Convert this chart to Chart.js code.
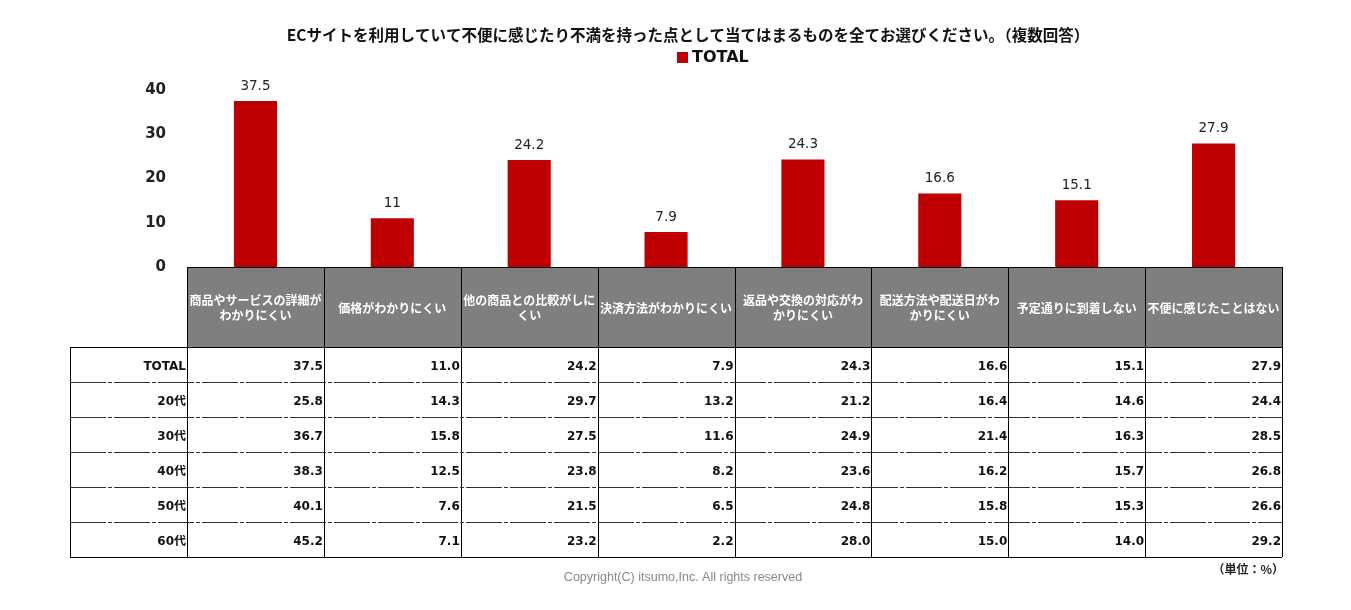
<!DOCTYPE html>
<html>
<head>
<meta charset="utf-8">
<script src="https://cdn.jsdelivr.net/npm/chart.js@4"></script>
<style>
  body { margin: 0; background: #fff; }
  canvas { display: block; }
</style>
</head>
<body>
<canvas id="chart" width="1351" height="610"></canvas>
<script>
// Categories (header cells of the table, already split into lines)
const categories = [
    ['商品やサービスの詳細が', 'わかりにくい'],
    ['価格がわかりにくい'],
    ['他の商品との比較がしに', 'くい'],
    ['決済方法がわかりにくい'],
    ['返品や交換の対応がわ', 'かりにくい'],
    ['配送方法や配送日がわ', 'かりにくい'],
    ['予定通りに到着しない'],
    ['不便に感じたことはない']
];

// Bar values (TOTAL)
const totalValues = [37.5, 11, 24.2, 7.9, 24.3, 16.6, 15.1, 27.9];

// Table rows by age group
const rowLabels = ['TOTAL', '20代', '30代', '40代', '50代', '60代'];
const age20 = [25.8, 14.3, 29.7, 13.2, 21.2, 16.4, 14.6, 24.4];
const age30 = [36.7, 15.8, 27.5, 11.6, 24.9, 21.4, 16.3, 28.5];
const age40 = [38.3, 12.5, 23.8, 8.2, 23.6, 16.2, 15.7, 26.8];
const age50 = [40.1, 7.6, 21.5, 6.5, 24.8, 15.8, 15.3, 26.6];
const age60 = [45.2, 7.1, 23.2, 2.2, 28.0, 15.0, 14.0, 29.2];

// Y axis ticks
const yTicks = [0, 10, 20, 30, 40];

const titleText = 'ECサイトを利用していて不便に感じたり不満を持った点として当てはまるものを全てお選びください。（複数回答）';
const barColor = '#C00000';
const jpFont = "'Noto Sans CJK JP', 'DejaVu Sans', sans-serif";
const numFont = "'DejaVu Sans', 'Noto Sans CJK JP', sans-serif";

const tableRows = [totalValues, age20, age30, age40, age50, age60];

// Title, legend, bar value labels
const decorPlugin = {
    id: 'decor',
    afterDatasetsDraw(chart) {
        const ctx = chart.ctx;
        ctx.save();
        ctx.fillStyle = '#111';
        ctx.font = 'bold 15.5px ' + jpFont;
        ctx.textAlign = 'center';
        ctx.textBaseline = 'middle';
        ctx.fillText(titleText, 688, 35);

        // legend
        ctx.fillStyle = barColor;
        ctx.fillRect(677, 52, 11, 11);
        ctx.fillStyle = '#111';
        ctx.font = 'bold 16px ' + numFont;
        ctx.textAlign = 'left';
        ctx.fillText(chart.data.datasets[0].label, 692, 58);

        // value labels
        const meta = chart.getDatasetMeta(0);
        ctx.font = '13.5px ' + numFont;
        ctx.fillStyle = '#222';
        ctx.textAlign = 'center';
        ctx.textBaseline = 'bottom';
        meta.data.forEach((bar, i) => {
            ctx.fillText(String(totalValues[i]), bar.x, bar.y - 8);
        });
        ctx.restore();
    }
};

// Data table below the plot, aligned to the x scale
const tablePlugin = {
    id: 'dataTable',
    afterDraw(chart) {
        const ctx = chart.ctx;
        const x = chart.scales.x;
        const area = chart.chartArea;
        const top = area.bottom;
        const headH = 80;
        const rowH = 35;
        const labelLeft = 70;
        const n = categories.length;
        const step = (area.right - area.left) / n;
        const edges = [];
        for (let i = 0; i <= n; i++) edges.push(area.left + step * i);
        const bottom = top + headH + rowH * tableRows.length;

        ctx.save();
        // header
        ctx.fillStyle = '#7f7f7f';
        ctx.fillRect(area.left, top, area.right - area.left, headH);
        ctx.fillStyle = '#fff';
        ctx.font = 'bold 12px ' + jpFont;
        ctx.textAlign = 'center';
        ctx.textBaseline = 'middle';
        categories.forEach((lines, i) => {
            const cx = x.getPixelForValue(i);
            const cy = top + headH / 2 + 1;
            const lh = 15;
            lines.forEach((line, j) => {
                ctx.fillText(line, cx, cy + (j - (lines.length - 1) / 2) * lh);
            });
        });

        // body text
        ctx.fillStyle = '#111';
        ctx.font = 'bold 12px ' + numFont;
        ctx.textAlign = 'right';
        tableRows.forEach((row, r) => {
            const cy = top + headH + rowH * r + rowH / 2 + 2;
            ctx.fillText(rowLabels[r], area.left - 1, cy);
            row.forEach((v, i) => {
                ctx.fillText(v.toFixed(1), edges[i + 1] - 1, cy);
            });
        });

        // lines
        ctx.strokeStyle = '#000';
        ctx.lineWidth = 1;
        ctx.beginPath();
        ctx.moveTo(area.left, top + 0.5);
        ctx.lineTo(area.right, top + 0.5);
        ctx.moveTo(labelLeft, top + headH + 0.5);
        ctx.lineTo(area.right, top + headH + 0.5);
        ctx.moveTo(labelLeft, bottom + 0.5);
        ctx.lineTo(area.right, bottom + 0.5);
        ctx.moveTo(labelLeft + 0.5, top + headH);
        ctx.lineTo(labelLeft + 0.5, bottom);
        edges.forEach(e => {
            ctx.moveTo(Math.round(e) + 0.5, top);
            ctx.lineTo(Math.round(e) + 0.5, bottom);
        });
        ctx.stroke();

        // row separators
        ctx.strokeStyle = '#333';
        ctx.setLineDash([36, 2, 4, 2]);
        ctx.beginPath();
        for (let r = 1; r < tableRows.length; r++) {
            const y = Math.round(top + headH + rowH * r) + 0.5;
            ctx.moveTo(labelLeft, y);
            ctx.lineTo(area.right, y);
        }
        ctx.stroke();
        ctx.setLineDash([]);

        // unit note and copyright
        ctx.fillStyle = '#222';
        ctx.font = 'bold 12px ' + jpFont;
        ctx.textAlign = 'right';
        ctx.fillText('（単位：%）', area.right + 2, bottom + 12);
        ctx.fillStyle = '#888';
        ctx.font = "12.5px 'Liberation Sans', Arial, sans-serif";
        ctx.textAlign = 'center';
        ctx.fillText('Copyright(C) itsumo,Inc. All rights reserved', 683, 578);
        ctx.restore();
    }
};

new Chart(document.getElementById('chart'), {
    type: 'bar',
    data: {
        labels: categories,
        datasets: [{
            label: 'TOTAL',
            data: totalValues,
            backgroundColor: barColor,
            borderWidth: 0,
            barPercentage: 0.315,
            categoryPercentage: 1
        }]
    },
    options: {
        responsive: false,
        animation: false,
        layout: {
            padding: { top: 90, right: 69, bottom: 343, left: 0 }
        },
        plugins: {
            legend: { display: false },
            title: { display: false },
            tooltip: { enabled: false }
        },
        scales: {
            x: {
                display: false
            },
            y: {
                min: yTicks[0],
                max: yTicks[yTicks.length - 1],
                afterFit(scale) { scale.width = 187; },
                afterBuildTicks(scale) { scale.ticks = yTicks.map(v => ({ value: v })); },
                grid: { display: false },
                border: { display: false },
                ticks: {
                    padding: 13,
                    color: '#222',
                    font: { family: numFont, size: 15, weight: 'bold' }
                }
            }
        }
    },
    plugins: [decorPlugin, tablePlugin]
});
</script>
</body>
</html>
